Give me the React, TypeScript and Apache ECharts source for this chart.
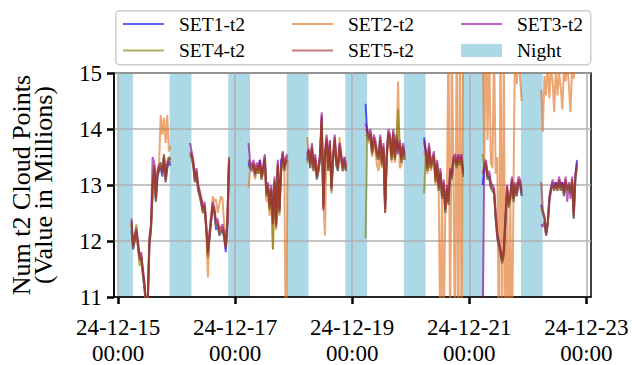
import React, { useEffect, useRef } from "react";
import * as echarts from "echarts";

// One array per day (Dec 15 .. Dec 22), samples every 40 min starting 05:30
const days = ["2024-12-15", "2024-12-16", "2024-12-17", "2024-12-18", "2024-12-19", "2024-12-20", "2024-12-21", "2024-12-22"];
const sampleStart = "T05:30:00Z";
const sampleStepMinutes = 40;

const set1 = [
  [12.2, 11.85, 12.0, 12.15, 11.9, 11.65, 11.7, 11.4, 11.15, 10.8, 10.9, 11.9, 12.2, 13.0, 13.3, 12.7, 13.15, 13.25, 13.3, 13.15, 13.45, 13.05, 13.3, 13.4, 13.35],
  [13.55, 13.5, 13.35, 13.05, 13.2, 12.9, 12.8, 12.65, 12.5, 12.6, 12.2, 11.8, 12.05, 12.35, 12.6, 12.5, 12.2, 12.3, 12.1, 12.15, 12.2, 12.05, 11.8, 12.3, 13.4],
  [13.4, 13.3, 13.25, 13.35, 13.15, 13.3, 13.2, 13.45, 13.1, 13.25, 13.45, 12.8, 12.95, 12.55, 12.9, 12.35, 13.05, 12.3, 13.35, 12.55, 13.45, 13.5, 13.25, 13.4, 13.45],
  [13.45, 13.55, 13.3, 13.65, 13.25, 13.45, 13.1, 13.25, 13.45, 14.2, 12.65, 13.5, 13.8, 13.25, 13.7, 12.95, 13.45, 13.8, 13.35, 13.25, 13.65, 13.45, 13.25, 13.4, 13.25],
  [14.45, 13.9, 13.8, 13.9, 13.55, 13.8, 13.7, 13.5, 13.45, 13.8, 13.35, 13.65, 12.6, 13.5, 13.9, 13.8, 13.45, 13.9, 13.45, 13.8, 13.55, 13.7, 13.4, 13.65, 13.45],
  [13.85, 13.55, 13.25, 13.65, 13.3, 13.4, 13.5, 13.05, 13.35, 12.9, 13.2, 12.75, 13.0, 12.5, 12.9, 12.65, 13.2, 13.1, 13.4, 13.45, 13.3, 13.45, 13.35, 13.45, 13.15],
  [13.0, 13.3, 13.35, 13.1, 13.15, 12.95, 12.9, 12.85, 12.4, 12.05, 11.9, 11.75, 11.6, 11.75, 12.35, 12.9, 12.6, 12.75, 13.05, 12.7, 12.95, 12.8, 13.05, 13.0, 12.8],
  [12.65, 12.5, 12.4, 12.1, 12.3, 12.7, 12.95, 13.0, 12.9, 13.05, 12.95, 13.05, 12.9, 13.05, 12.8, 13.05, 12.9, 12.95, 12.85, 13.05, 12.4, 13.1, 13.45],
];

const set2 = [
  [12.3, 11.95, 12.1, 12.15, 11.9, 11.75, 11.7, 11.5, 11.25, 10.85, 10.9, 11.95, 12.3, 12.85, 13.3, 12.8, 13.25, 13.4, 14.25, 13.9, 14.2, 13.75, 14.25, 13.6, 13.7],
  [13.55, 13.5, 13.35, 13.2, 13.15, 13.0, 12.8, 12.75, 12.5, 12.6, 12.2, 11.35, 12.15, 12.45, 12.8, 12.7, 12.75, 12.5, 12.65, 12.8, 12.75, 12.3, 12.0, 12.3, 13.4],
  [12.95, 13.3, 13.25, 13.3, 13.1, 13.3, 13.2, 13.35, 13.1, 13.25, 13.45, 12.7, 12.8, 12.45, 12.85, 11.85, 13.0, 12.4, 13.3, 12.6, 13.2, 13.6, 13.35, 9.5, 13.45],
  [13.85, 13.55, 13.4, 13.65, 13.25, 13.45, 13.2, 13.25, 13.6, 14.1, 12.7, 12.1, 13.7, 13.35, 13.8, 13.0, 13.45, 13.75, 13.5, 13.4, 13.85, 13.55, 13.25, 13.5, 13.3],
  [13.9, 13.85, 13.75, 13.8, 13.5, 13.75, 13.6, 13.35, 13.25, 13.7, 13.3, 13.55, 12.7, 13.45, 13.8, 13.7, 13.4, 13.85, 13.4, 13.7, 14.85, 13.3, 13.35, 13.6, 13.45],
  [13.6, 13.5, 13.2, 13.55, 13.25, 13.35, 13.45, 13.0, 13.3, 12.85, 10.0, 13.0, 10.2, 12.6, 12.8, 15.8, 10.0, 15.5, 13.3, 9.8, 16.0, 10.0, 15.8, 9.9, 16.0],
  [15.8, 13.3, 16.0, 13.8, 15.5, 13.4, 13.3, 15.5, 13.2, 13.5, 9.8, 16.0, 10.0, 15.5, 9.8, 13.0, 10.0, 12.8, 9.9, 13.0, 16.0, 14.8, 15.5, 14.9, 14.5],
  [14.7, 13.95, 14.95, 14.6, 15.2, 14.55, 15.1, 14.85, 14.3, 15.1, 14.6, 15.0, 14.75, 14.35, 15.1, 14.85, 15.2, 14.8, 14.3, 15.1, 14.9, 15.2, 15.0],
];

const set3 = [
  [12.4, 11.95, 12.1, 12.25, 12.0, 11.75, 11.8, 11.5, 11.25, 10.85, 10.95, 12.05, 12.3, 13.5, 13.4, 12.8, 13.25, 13.35, 13.4, 13.25, 13.55, 13.15, 13.4, 13.5, 13.45],
  [13.75, 13.6, 13.45, 13.15, 13.3, 13.0, 12.9, 12.75, 12.6, 12.7, 12.3, 11.8, 12.15, 12.45, 12.7, 12.6, 12.35, 12.4, 12.2, 12.25, 12.3, 12.15, 11.9, 12.4, 13.5],
  [13.75, 13.4, 13.35, 13.45, 13.25, 13.4, 13.3, 13.45, 13.2, 13.35, 13.55, 12.9, 13.05, 12.65, 13.0, 12.35, 13.15, 12.3, 13.45, 12.55, 13.3, 13.6, 13.35, 13.5, 13.55],
  [13.55, 13.65, 13.4, 13.75, 13.35, 13.55, 13.2, 13.35, 13.55, 14.3, 12.55, 13.6, 13.9, 13.35, 13.8, 12.95, 13.55, 13.9, 13.45, 13.35, 13.75, 13.55, 13.35, 13.5, 13.35],
  [14.1, 14.0, 13.9, 14.0, 13.65, 13.9, 13.8, 13.6, 13.55, 13.9, 13.45, 13.75, 12.55, 13.6, 14.0, 13.9, 13.55, 14.0, 13.55, 13.9, 13.65, 13.8, 13.5, 13.75, 13.55],
  [13.8, 13.65, 13.35, 13.75, 13.4, 13.5, 13.6, 13.15, 13.45, 13.0, 13.3, 12.85, 13.1, 12.6, 13.0, 12.75, 13.3, 13.2, 13.5, 13.55, 13.4, 13.55, 13.45, 13.55, 13.25],
  [10.5, 13.4, 13.45, 13.2, 13.25, 13.05, 13.0, 12.95, 12.5, 12.15, 12.0, 11.85, 11.7, 11.85, 12.45, 13.0, 12.7, 12.85, 13.15, 12.8, 13.05, 12.9, 13.15, 13.1, 12.9],
  [12.3, 12.25, 12.35, 12.1, 12.3, 12.8, 12.95, 13.1, 13.0, 13.05, 12.95, 13.15, 13.0, 13.05, 12.9, 13.15, 12.7, 13.05, 12.75, 13.15, 12.5, 13.2, 13.4],
];

const set4 = [
  [12.3, 11.85, 12.0, 12.3, 11.9, 11.55, 11.7, 11.4, 11.15, 10.8, 10.85, 11.95, 12.2, 12.85, 13.35, 12.7, 13.2, 13.25, 13.4, 13.25, 13.55, 13.05, 13.3, 13.5, 13.45],
  [13.5, 13.5, 13.35, 13.05, 13.2, 12.9, 12.8, 12.65, 12.5, 12.6, 12.2, 11.7, 12.05, 12.35, 12.6, 12.5, 12.25, 12.3, 12.1, 12.15, 12.2, 12.05, 11.9, 12.35, 13.5],
  [13.3, 13.35, 13.35, 13.35, 13.2, 13.3, 13.2, 13.35, 13.1, 13.25, 13.45, 12.8, 12.95, 12.55, 12.9, 11.85, 13.05, 12.2, 13.35, 12.45, 13.2, 13.5, 13.25, 13.4, 13.45],
  [13.4, 13.55, 13.3, 13.65, 13.25, 13.45, 13.1, 13.25, 13.45, 14.15, 12.6, 13.5, 13.8, 13.25, 13.7, 12.85, 13.45, 13.8, 13.35, 13.25, 13.65, 13.45, 13.25, 13.4, 13.25],
  [12.05, 13.95, 13.8, 13.9, 13.55, 13.8, 13.7, 13.5, 13.45, 13.8, 13.35, 13.65, 12.5, 13.5, 13.9, 13.8, 13.45, 13.9, 13.45, 13.8, 14.35, 13.7, 13.4, 13.65, 13.45],
  [12.85, 13.55, 13.25, 13.65, 13.3, 13.4, 13.5, 13.05, 13.35, 12.9, 13.2, 12.75, 13.0, 12.5, 12.9, 12.65, 13.2, 13.1, 13.4, 13.45, 13.3, 13.45, 13.35, 13.45, 13.15],
  [13.55, 13.3, 13.35, 13.1, 13.15, 12.95, 12.9, 12.85, 12.4, 12.05, 11.9, 11.75, 11.6, 11.75, 12.35, 12.9, 12.6, 12.75, 13.05, 12.7, 12.95, 12.8, 13.05, 13.0, 12.8],
  [12.6, 12.5, 12.4, 12.1, 12.3, 12.7, 12.9, 13.0, 12.9, 13.0, 12.9, 13.05, 12.9, 13.0, 12.8, 13.05, 12.9, 12.95, 12.85, 13.05, 12.4, 13.1, 13.3],
];

const set5 = [
  [12.35, 11.9, 12.05, 12.2, 11.95, 11.7, 11.75, 11.45, 11.2, 10.8, 10.9, 12.0, 12.25, 12.9, 13.35, 12.75, 13.2, 13.3, 13.35, 13.2, 13.5, 13.1, 13.35, 13.45, 13.4],
  [13.6, 13.55, 13.4, 13.1, 13.25, 12.95, 12.85, 12.7, 12.55, 12.65, 12.25, 11.75, 12.1, 12.4, 12.65, 12.55, 12.3, 12.35, 12.15, 12.2, 12.25, 12.1, 11.85, 12.35, 13.45],
  [13.45, 13.35, 13.3, 13.4, 13.2, 13.35, 13.25, 13.4, 13.15, 13.3, 13.5, 12.85, 13.0, 12.6, 12.95, 12.3, 13.1, 12.25, 13.4, 12.5, 13.25, 13.55, 13.3, 13.45, 13.5],
  [13.5, 13.6, 13.35, 13.7, 13.3, 13.5, 13.15, 13.3, 13.5, 14.25, 12.6, 13.55, 13.85, 13.3, 13.75, 12.9, 13.5, 13.85, 13.4, 13.3, 13.7, 13.5, 13.3, 13.45, 13.3],
  [14.0, 13.95, 13.85, 13.95, 13.6, 13.85, 13.75, 13.55, 13.5, 13.85, 13.4, 13.7, 12.5, 13.55, 13.95, 13.85, 13.5, 13.95, 13.5, 13.85, 13.6, 13.75, 13.45, 13.7, 13.5],
  [13.75, 13.6, 13.3, 13.7, 13.35, 13.45, 13.55, 13.1, 13.4, 12.95, 13.25, 12.8, 13.05, 12.55, 12.95, 12.7, 13.25, 13.15, 13.45, 13.5, 13.35, 13.5, 13.4, 13.5, 13.2],
  [13.2, 13.35, 13.4, 13.15, 13.2, 13.0, 12.95, 12.9, 12.45, 12.1, 11.95, 11.8, 11.65, 11.8, 12.4, 12.95, 12.65, 12.8, 13.1, 12.75, 13.0, 12.85, 13.1, 13.05, 12.85],
  [13.05, 12.55, 12.45, 12.15, 12.35, 12.75, 12.9, 13.05, 12.95, 13.0, 12.9, 13.1, 12.95, 13.0, 12.85, 13.1, 12.95, 13.0, 12.9, 13.1, 12.45, 13.15, 13.35],
];

const seriesNames = ["SET1-t2", "SET2-t2", "SET3-t2", "SET4-t2", "SET5-t2"];
const seriesColors = ["#0000ff", "#e0701e", "#8c0096", "#808000", "#a52a2a"];

const nightBands = [
  ["2024-12-15T00:00:00Z", "2024-12-15T06:05:00Z"],
  ["2024-12-15T21:10:00Z", "2024-12-16T06:05:00Z"],
  ["2024-12-16T21:10:00Z", "2024-12-17T06:05:00Z"],
  ["2024-12-17T21:10:00Z", "2024-12-18T06:05:00Z"],
  ["2024-12-18T21:10:00Z", "2024-12-19T06:05:00Z"],
  ["2024-12-19T21:10:00Z", "2024-12-20T06:05:00Z"],
  ["2024-12-20T21:10:00Z", "2024-12-21T06:05:00Z"],
  ["2024-12-21T21:10:00Z", "2024-12-22T06:05:00Z"],
];

const xTicks = ["2024-12-15T00:00:00Z", "2024-12-17T00:00:00Z", "2024-12-19T00:00:00Z", "2024-12-21T00:00:00Z", "2024-12-23T00:00:00Z"];
const xTickLabels = ["24-12-15\n00:00", "24-12-17\n00:00", "24-12-19\n00:00", "24-12-21\n00:00", "24-12-23\n00:00"];
const xMin = "2024-12-14T22:20:00Z";
const xMax = "2024-12-23T01:55:00Z";
const yMin = 11;
const yMax = 15;
const yInterval = 1;

const FONT = "Liberation Serif, Times New Roman, serif";

function buildData(perDay: number[][]) {
  const out: any[] = [];
  perDay.forEach((vals, d) => {
    const base = Date.parse(days[d] + sampleStart);
    vals.forEach((v, i) => out.push([base + i * sampleStepMinutes * 60000, v]));
    out.push([base + vals.length * sampleStepMinutes * 60000, "-"]);
  });
  return out;
}

export default function App() {
  const ref = useRef<HTMLDivElement>(null);
  useEffect(() => {
    if (!ref.current) return;
    const chart = echarts.init(ref.current, null, { renderer: "svg" });
    const allSets = [set1, set2, set3, set4, set5];
    const tickMs = xTicks.map((t) => Date.parse(t));
    const lineSeries = allSets.map((s, k) => ({
      name: seriesNames[k],
      type: "line",
      data: buildData(s),
      symbol: "none",
      showSymbol: false,
      connectNulls: false,
      clip: true,
      z: 3 + k,
      color: seriesColors[k],
      lineStyle: { width: 2, color: seriesColors[k], opacity: 0.62 },
      itemStyle: { color: seriesColors[k], opacity: 0.62 },
    }));
    const legendCommon = {
      orient: "vertical",
      top: 14,
      padding: 0,
      itemWidth: 41,
      itemHeight: 13,
      itemGap: 6.4,
      itemStyle: { opacity: 0 },
      textStyle: { fontFamily: FONT, fontSize: 19.5, color: "#000", padding: [0, 0, 0, 10] },
    };
    chart.setOption({
      animation: false,
      backgroundColor: "#fff",
      graphic: [
        {
          type: "rect",
          left: 115,
          top: 10,
          shape: { width: 475, height: 54, r: 4 },
          style: { fill: "#fff", stroke: "#cccccc", lineWidth: 1.5 },
          z: 0,
        },
      ],
      legend: [
        { ...legendCommon, left: 122, data: [seriesNames[0], seriesNames[3]] },
        { ...legendCommon, left: 291, data: [seriesNames[1], seriesNames[4]] },
        {
          ...legendCommon,
          left: 460,
          data: [seriesNames[2], { name: "Night", icon: "rect", itemStyle: { opacity: 1, color: "#add8e6" } }],
        },
      ],
      grid: {
        left: 114,
        right: 41,
        top: 73,
        bottom: 68,
        show: true,
        borderColor: "#000",
        borderWidth: 1.5,
        backgroundColor: "transparent",
        outerBoundsMode: "none",
        z: 2,
      },
      xAxis: {
        type: "value",
        min: Date.parse(xMin),
        max: Date.parse(xMax),
        z: 2,
        axisLine: { show: true, lineStyle: { color: "#000", width: 1.5 } },
        axisTick: { show: true, customValues: tickMs, length: 7, lineStyle: { color: "#000", width: 2.5 } },
        axisLabel: {
          customValues: tickMs,
          fontFamily: FONT,
          fontSize: 23,
          lineHeight: 26,
          color: "#000",
          margin: 17,
          formatter: (v: number) => {
            const i = tickMs.findIndex((t) => Math.abs(t - v) < 60000);
            return i >= 0 ? xTickLabels[i] : "";
          },
        },
        splitLine: { show: true, lineStyle: { color: "#b0b0b0", width: 1.5 } },
        minorTick: { show: false },
      },
      yAxis: {
        type: "value",
        min: yMin,
        max: yMax,
        interval: yInterval,
        z: 2,
        name: "Num t2 Cloud Points\n(Value in Millions)",
        nameLocation: "middle",
        nameRotate: 90,
        nameGap: 60,
        nameTextStyle: { fontFamily: FONT, fontSize: 26, lineHeight: 22, color: "#000" },
        axisLine: { show: true, lineStyle: { color: "#000", width: 1.5 } },
        axisTick: { show: true, length: 7, lineStyle: { color: "#000", width: 2.5 } },
        axisLabel: { fontFamily: FONT, fontSize: 23, color: "#000", margin: 12 },
        splitLine: { show: true, lineStyle: { color: "#b0b0b0", width: 1.5 } },
      },
      series: [
        {
          name: "Night",
          type: "bar",
          data: [],
          z: 1,
          itemStyle: { color: "#add8e6" },
          markArea: {
            silent: true,
            z: 1,
            itemStyle: { color: "#add8e6", opacity: 1 },
            data: nightBands.map(([a, b]) => [{ xAxis: Date.parse(a) }, { xAxis: Date.parse(b) }]),
          },
        },
        ...lineSeries,
      ],
    });
    return () => chart.dispose();
  }, []);
  return <div ref={ref} style={{ position: "absolute", left: 0, top: 0, width: 632, height: 365 }} />;
}
